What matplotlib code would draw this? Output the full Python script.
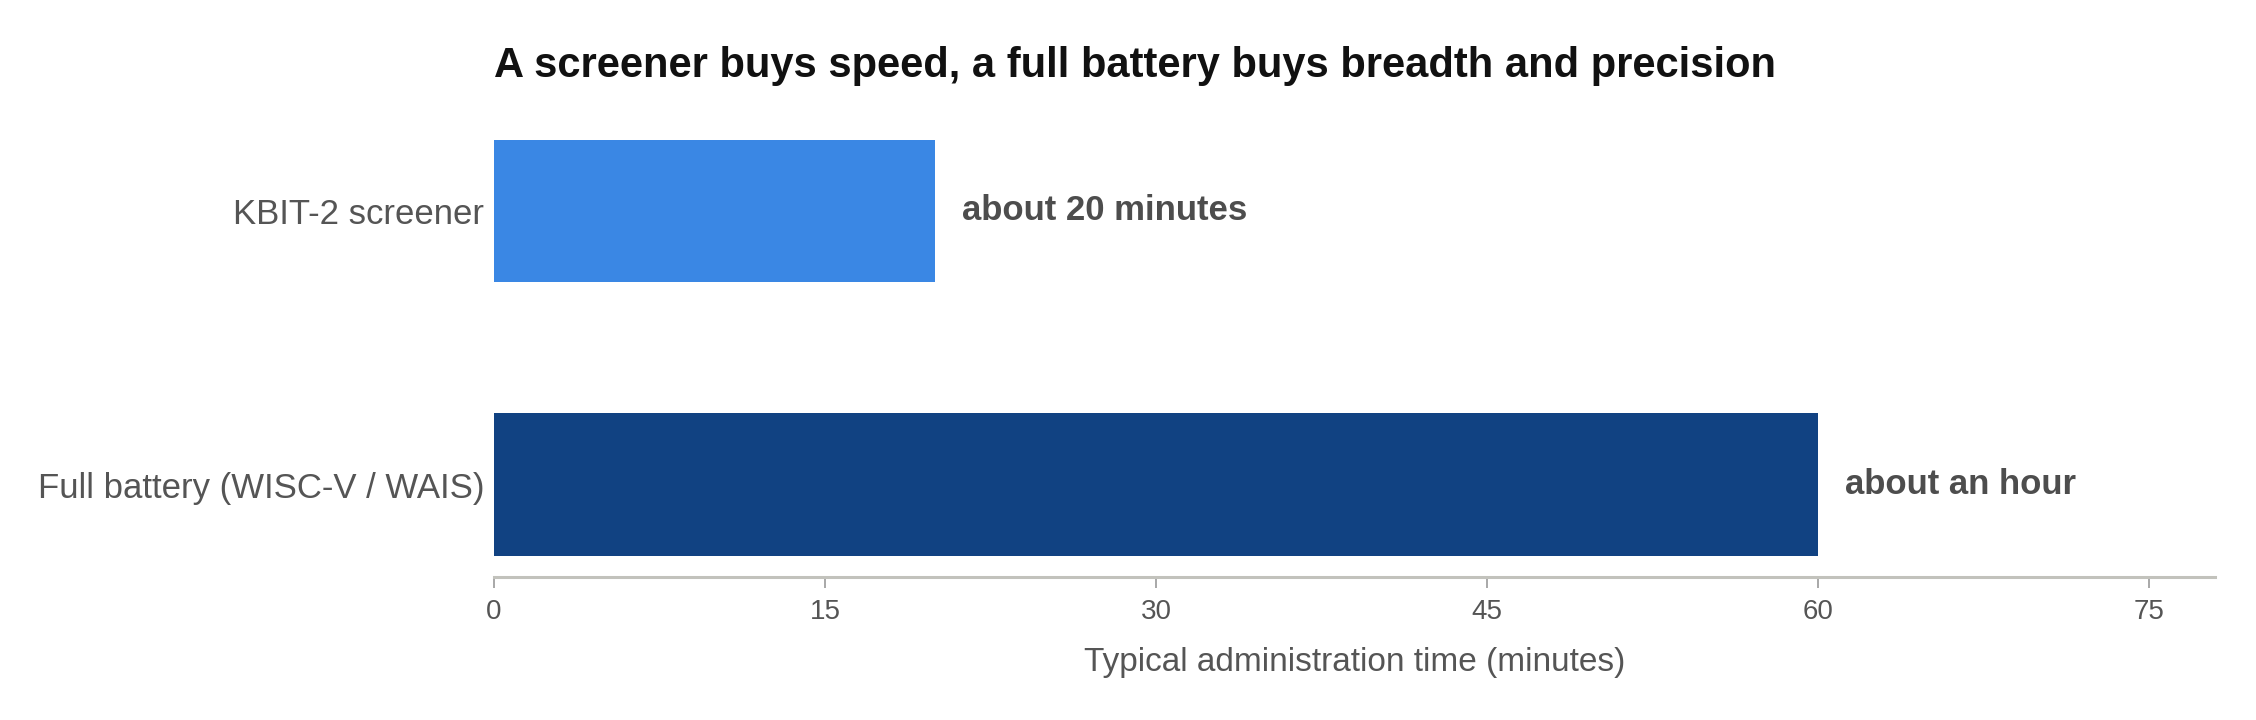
import matplotlib
matplotlib.use("Agg")
import matplotlib.pyplot as plt

# ---------------------- DATA ----------------------------
categories = ["KBIT-2 screener", "Full battery (WISC-V / WAIS)"]
minutes    = [20, 60]
bar_labels = ["about 20 minutes", "about an hour"]
bar_colors = ["#3a87e4", "#114282"]
x_ticks    = [0, 15, 30, 45, 60, 75]

TITLE  = "A screener buys speed, a full battery buys breadth and precision"
XLABEL = "Typical administration time (minutes)"

plt.rcParams["font.family"] = ["Liberation Sans", "DejaVu Sans"]

# ---------------------- FIGURE --------------------------
fig = plt.figure(figsize=(22.56, 7.2), dpi=100)
ax = fig.add_axes([0.219, 0.199, 0.763, 0.636])

y = list(range(len(categories)))
bars = ax.barh(y, minutes, height=0.52, color=bar_colors)

ax.set_ylim(1.336, -0.336)
ax.set_xlim(0, 78)

# value labels next to bars
for bar, txt in zip(bars, bar_labels):
    ax.annotate(txt, (bar.get_width(), bar.get_y() + bar.get_height() / 2),
                xytext=(19, 0), textcoords="offset points",
                ha="left", va="center", fontsize=25, fontweight="bold",
                color="#4d4d4d")

ax.set_yticks(y)
ax.set_yticklabels(categories, fontsize=25, color="#555555")
ax.tick_params(axis="y", length=0, pad=7)

ax.set_xticks(x_ticks)
ax.set_xticklabels([str(t) for t in x_ticks], fontsize=20, color="#555555")
ax.tick_params(axis="x", length=8, width=1.2, color="#999999", pad=8)
ax.set_xlabel(XLABEL, fontsize=24, color="#555555", labelpad=16)

for side in ("top", "right", "left"):
    ax.spines[side].set_visible(False)
ax.spines["bottom"].set_color("#c2c2bc")
ax.spines["bottom"].set_linewidth(2.2)

fig.text(0.219, 0.908, TITLE, fontsize=30, fontweight="bold", color="#111111",
         ha="left", va="center")

fig.savefig("out.png", dpi=100)
